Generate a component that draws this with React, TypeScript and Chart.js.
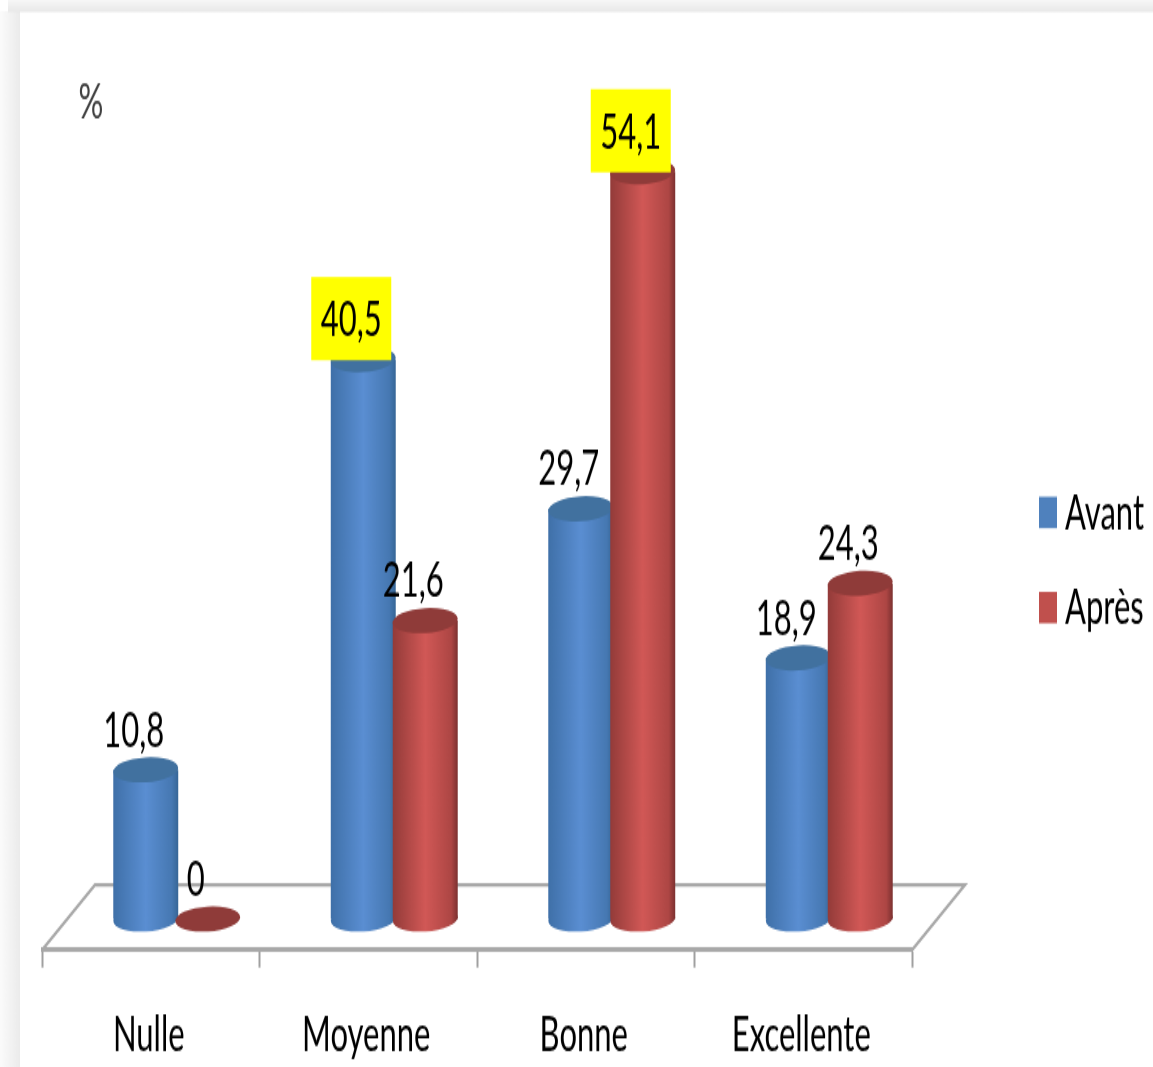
import React, { useEffect, useRef } from "react";
import { Chart, registerables } from "chart.js";

Chart.register(...registerables);

const categories = ["Nulle", "Moyenne", "Bonne", "Excellente"];
const avantValues = [10.8, 40.5, 29.7, 18.9];
const apresValues = [0, 21.6, 54.1, 24.3];
const avantHighlighted = [false, true, false, false];
const apresHighlighted = [false, false, true, false];
const seriesNames = ["Avant", "Après"];
const unitLabel = "%";

const WIDTH = 1153;
const DRAW_HEIGHT = 667;
const STRETCH = 1067 / DRAW_HEIGHT;
const FONT = "Lato, 'Open Sans', sans-serif";
const DEPTH_X = 26; // bars stand halfway across the 3D floor
const FLOOR_SKEW_X = 53;
const FLOOR_SKEW_Y = 40.6;
const CAP_RY = 7.8;
const TILT = -0.04;

const palettes = [
  { edgeL: "#3f70a8", mid: "#5a8ed2", near: "#4678b2", edgeR: "#366696", cap: "#41719f", flat: "#4f81bd" },
  { edgeL: "#933b39", mid: "#d15856", near: "#ad4644", edgeR: "#7c3130", cap: "#8f3b39", flat: "#c0504d" },
];

const highlighted = [avantHighlighted, apresHighlighted];

function cylinderGradient(ctx: CanvasRenderingContext2D, left: number, right: number, p: any) {
  const g = ctx.createLinearGradient(left, 0, right, 0);
  g.addColorStop(0, p.edgeL);
  g.addColorStop(0.5, p.mid);
  g.addColorStop(0.9, p.near);
  g.addColorStop(1, p.edgeR);
  return g;
}

function drawSeries(chart: any, datasetIndex: number) {
  const ctx: CanvasRenderingContext2D = chart.ctx;
  const meta = chart.getDatasetMeta(datasetIndex);
  const p = palettes[datasetIndex];
  const yScale = chart.scales.y;
  const base = yScale.getPixelForValue(0);
  ctx.save();
  ctx.translate(DEPTH_X, 0);
  const values = chart.data.datasets[datasetIndex].data as number[];
  meta.data.forEach((bar: any, i: number) => {
    const rx = bar.width / 2;
    const fill = cylinderGradient(ctx, bar.x - rx, bar.x + rx, p);
    bar.options = { ...bar.options, backgroundColor: fill, borderWidth: 0, borderRadius: 0, inflateAmount: 0 };
    if (values[i] > 0) {
      ctx.fillStyle = fill;
      ctx.beginPath();
      ctx.ellipse(bar.x, base, rx, CAP_RY, TILT, 0, Math.PI * 2);
      ctx.fill();
    }
  });
  meta.controller.draw();
  meta.data.forEach((bar: any) => {
    const rx = bar.width / 2;
    ctx.fillStyle = p.cap;
    ctx.beginPath();
    ctx.ellipse(bar.x, bar.y, rx, CAP_RY, TILT, 0, Math.PI * 2);
    ctx.fill();
  });
  ctx.restore();
}

const cylinderPlugin = {
  id: "cylinders",
  beforeDraw(chart: any) {
    const { ctx, width, height } = chart;
    ctx.save();
    ctx.fillStyle = "#ffffff";
    ctx.fillRect(0, 0, width, height);
    const left = ctx.createLinearGradient(0, 0, 20, 0);
    left.addColorStop(0, "#fbfbfb");
    left.addColorStop(1, "#ebebeb");
    ctx.fillStyle = left;
    ctx.fillRect(0, 7, 20, height);
    const top = ctx.createLinearGradient(0, 0, 0, 7.5);
    top.addColorStop(0, "#f7f7f7");
    top.addColorStop(1, "#e8e8e8");
    ctx.fillStyle = top;
    ctx.fillRect(8, 0, width, 7.5);
    ctx.restore();
  },
  beforeDatasetsDraw(chart: any) {
    const { ctx, chartArea } = chart;
    const { left, right, bottom } = chartArea;
    ctx.save();
    ctx.strokeStyle = "#a8a8a8";
    ctx.lineJoin = "miter";
    ctx.lineWidth = 2.2;
    ctx.beginPath();
    ctx.moveTo(left, bottom);
    ctx.lineTo(left + FLOOR_SKEW_X, bottom - FLOOR_SKEW_Y);
    ctx.lineTo(right + FLOOR_SKEW_X, bottom - FLOOR_SKEW_Y);
    ctx.lineTo(right, bottom);
    ctx.stroke();
    ctx.restore();
    drawSeries(chart, 0);
    drawSeries(chart, 1);
  },
  beforeDatasetDraw() {
    // drawSeries paints both series, the red one over the blue one
    return false;
  },
  afterDraw(chart: any) {
    const ctx: CanvasRenderingContext2D = chart.ctx;
    ctx.save();
    ctx.font = `31px ${FONT}`;
    ctx.textAlign = "center";
    ctx.textBaseline = "middle";
    chart.data.datasets.forEach((ds: any, d: number) => {
      chart.getDatasetMeta(d).data.forEach((bar: any, i: number) => {
        const x = bar.x + DEPTH_X - 12;
        const y = bar.y - 24.6;
        const text = String(ds.data[i]).replace(".", ",");
        if (highlighted[d][i]) {
          ctx.fillStyle = "#ffff00";
          ctx.fillRect(x - 40, y - 27, 80, 52);
        }
        ctx.fillStyle = "#000000";
        ctx.fillText(text, x, y);
      });
    });

    // unit label in the upper left corner
    ctx.fillStyle = "#404040";
    ctx.fillText(unitLabel, 91, 64);

    // legend on the right
    const swatchY = [310.5, 370];
    chart.data.datasets.forEach((ds: any, d: number) => {
      ctx.fillStyle = palettes[d].flat;
      ctx.fillRect(1039, swatchY[d], 18, 19.6);
      ctx.fillStyle = "#000000";
      ctx.textAlign = "left";
      ctx.fillText(ds.label, 1065, swatchY[d] + 10);
    });
    ctx.restore();
  },
};

export default function App() {
  const ref = useRef<HTMLCanvasElement | null>(null);
  useEffect(() => {
    if (!ref.current) return;
    const chart = new Chart(ref.current, {
      type: "bar",
      data: {
        labels: categories,
        datasets: [
          { label: seriesNames[0], data: avantValues, backgroundColor: palettes[0].flat, clip: false },
          { label: seriesNames[1], data: apresValues, backgroundColor: palettes[1].flat, clip: false },
        ],
      } as any,
      options: {
        animation: false,
        responsive: false,
        devicePixelRatio: 1,
        layout: { padding: { left: 42, right: WIDTH - 912, top: 56.4, bottom: -23 } },
        datasets: { bar: { categoryPercentage: 0.57, barPercentage: 1.048 } },
        plugins: { legend: { display: false }, title: { display: false }, tooltip: { enabled: false } },
        scales: {
          x: {
            grid: { drawOnChartArea: false, color: "#a0a0a0", tickColor: "#a0a0a0", tickLength: 11, tickWidth: 2, offset: true },
            border: { display: true, color: "#a8a8a8", width: 3 },
            ticks: { color: "#000000", padding: 24, labelOffset: -2, font: { family: FONT, size: 31 }, maxRotation: 0, autoSkip: false },
          },
          y: { display: false, min: -2.24, max: 60 },
        },
      } as any,
      plugins: [cylinderPlugin as any],
    });
    return () => chart.destroy();
  }, []);

  return (
    <div
      style={{
        position: "fixed",
        left: 0,
        top: 0,
        width: WIDTH,
        height: DRAW_HEIGHT,
        transform: `scaleY(${STRETCH})`,
        transformOrigin: "0 0",
      }}
    >
      <canvas ref={ref} width={WIDTH} height={DRAW_HEIGHT} style={{ display: "block" }} />
    </div>
  );
}
